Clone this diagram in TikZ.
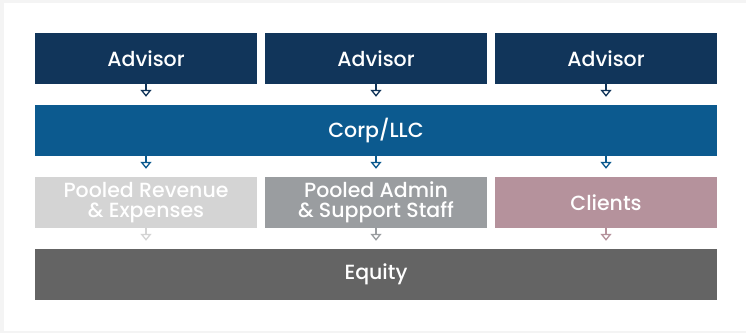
\documentclass[tikz,border=0pt]{standalone}
\usepackage{fontspec}
\setmainfont{Poppins}[UprightFont={* Medium}]
\usetikzlibrary{arrows.meta,positioning}
\definecolor{advisorblue}{HTML}{11355A}
\definecolor{corpblue}{HTML}{0C5A8F}
\definecolor{revgray}{HTML}{D4D4D4}
\definecolor{admingray}{HTML}{9A9DA0}
\definecolor{clientrose}{HTML}{B5929C}
\definecolor{equitygray}{HTML}{646464}
\tikzset{
  x=1pt, y=1pt,
  block/.style={rectangle, fill=#1, text=white, minimum width=222pt, minimum height=51pt,
                inner sep=0pt, align=center, font=\fontsize{20.5}{20}\selectfont},
  wide/.style={block=#1, minimum width=682pt},
  flow/.style={draw=#1, line width=1.3pt, -{Triangle[open,length=7pt,width=11pt]},
               shorten >=8pt}
}

\begin{document}
\begin{tikzpicture}
% outer frame
\fill[gray!9] (0,0) rectangle (746,-333);
\fill[white] (4,-3) rectangle (746,-331);
\useasboundingbox (0,0) rectangle (746,-333);
% top row
\node[block=advisorblue] (adv1) at (146,-58.5) {Advisor};
\node[block=advisorblue] (adv2) at (376,-58.5) {Advisor};
\node[block=advisorblue] (adv3) at (606,-58.5) {Advisor};
\node[wide=corpblue] (corp) at (376,-130.5) {Corp/LLC};
% pooled row
\node[block=revgray] (rev) at (146,-202.5) {Pooled Revenue\\\& Expenses};
\node[block=admingray] (admin) at (376,-202.5) {Pooled Admin\\\& Support Staff};
\node[block=clientrose] (clients) at (606,-202.5) {Clients};
\node[wide=equitygray] (equity) at (376,-274.5) {Equity};
% connectors
\foreach \n in {adv1,adv2,adv3}
  \draw[flow=advisorblue] (\n) -- (\n |- corp.north);
\draw[flow=corpblue] (corp.south -| rev) -- (rev.north);
\draw[flow=corpblue] (corp.south -| admin) -- (admin.north);
\draw[flow=corpblue] (corp.south -| clients) -- (clients.north);
\draw[flow=revgray] (rev) -- (rev |- equity.north);
\draw[flow=admingray] (admin) -- (admin |- equity.north);
\draw[flow=clientrose] (clients) -- (clients |- equity.north);
\end{tikzpicture}
\end{document}
